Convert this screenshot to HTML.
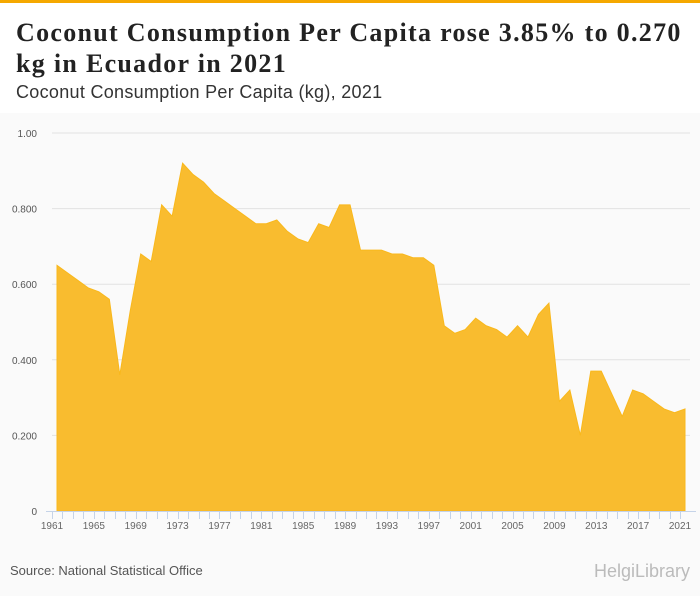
<!DOCTYPE html>
<html><head><meta charset="utf-8">
<style>
body{margin:0;width:700px;height:596px;background:#fafafa;font-family:"Liberation Sans",sans-serif;overflow:hidden;position:relative}
#hdr{position:absolute;left:0;top:0;width:700px;height:113px;background:#fff;border-top:3px solid #f5a800;box-sizing:border-box}
h1{margin:0;position:absolute;left:16px;top:14px;font:bold 26px/31px "Liberation Serif",serif;letter-spacing:1.3px;color:#222;white-space:nowrap}
#sub{position:absolute;left:16px;top:79px;font-size:18px;color:#333;letter-spacing:0.3px}
#src{position:absolute;left:10px;top:563px;font-size:13px;color:#555}
#logo{position:absolute;right:10px;top:561px;font-size:18px;color:#bbb}
svg{position:absolute;left:0;top:0}
</style></head><body>
<div id="hdr">
<h1>Coconut Consumption Per Capita rose 3.85% to 0.270<br>kg in Ecuador in 2021</h1>
<div id="sub">Coconut Consumption Per Capita (kg), 2021</div>
</div>
<svg id="chart" width="700" height="596"></svg>
<div id="src">Source: National Statistical Office</div>
<div id="logo">HelgiLibrary</div>
<script>
const years=[];for(let y=1961;y<=2021;y++)years.push(y);
const values=[0.65,0.63,0.61,0.59,0.58,0.56,0.36,0.53,0.68,0.66,0.81,0.78,0.92,0.89,0.87,0.84,0.82,0.80,0.78,0.76,0.76,0.77,0.74,0.72,0.71,0.76,0.75,0.81,0.81,0.69,0.69,0.69,0.68,0.68,0.67,0.67,0.65,0.49,0.47,0.48,0.51,0.49,0.48,0.46,0.49,0.46,0.52,0.55,0.29,0.32,0.20,0.37,0.37,0.31,0.25,0.32,0.31,0.29,0.27,0.26,0.27];
const yTicks=[0,0.2,0.4,0.6,0.8,1.0];
const yTickLabels=["0","0.200","0.400","0.600","0.800","1.00"];
const NS="http://www.w3.org/2000/svg";
const svg=document.getElementById('chart');
const X0=57,X1=685,Y0=511,Y1=133;
const xs=y=>X0+(y-1961)/(2021-1961)*(X1-X0);
const ys=v=>Y0-v*(Y0-Y1);
function mk(t,a){const e=document.createElementNS(NS,t);for(const k in a)e.setAttribute(k,a[k]);svg.appendChild(e);return e;}
yTicks.forEach((t,i)=>{
 if(t>0){const g=mk('line',{x1:52,x2:690,y1:ys(t),y2:ys(t),stroke:'#e2e2e2','stroke-width':1});
 
 }
 const l=mk('text',{x:37,y:ys(t)+4,'text-anchor':'end','font-size':10,fill:'#555','font-family':'Liberation Sans'});
 
 
 l.textContent=yTickLabels[i];
});
let d='M'+xs(years[0])+','+Y0;
years.forEach((y,i)=>{d+=' L'+xs(y)+','+ys(values[i]);});
d+=' L'+xs(years[years.length-1])+','+Y0+' Z';
const a=mk('path',{d:d,fill:'#f9bc2f',stroke:'#f9b81c','stroke-width':1});


const ax=mk('line',{x1:46,x2:696,y1:Y0+0.5,y2:Y0+0.5,stroke:'#c5d3e8'});


years.forEach(y=>{
 const x=Math.round(xs(y)-5)+0.5;
 const tk=mk('line',{x1:x,x2:x,y1:Y0,y2:Y0+8,stroke:'#c5d3e8'});
 
 
 if((y-1961)%4===0){
  const l=mk('text',{x:xs(y)-5,y:Y0+18,'text-anchor':'middle','font-size':10,fill:'#666','font-family':'Liberation Sans'});
  
  
  l.textContent=y;
 }
});
</script>
</body></html>
